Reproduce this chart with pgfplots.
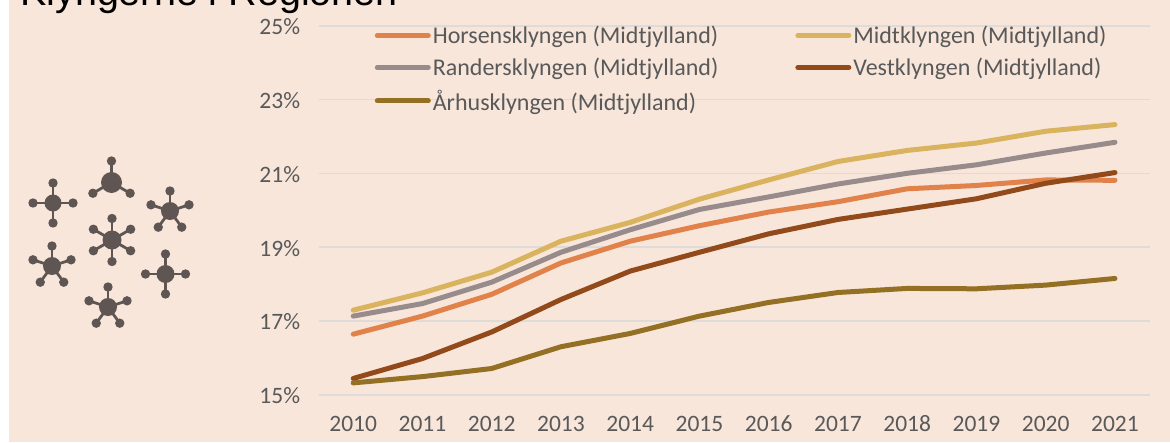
\documentclass[border=0pt]{standalone}
\usepackage{pgfplots}
\pgfplotsset{compat=1.18}
\usepackage{fontspec}
\setmainfont{Carlito}
\newfontfamily\titlefont{Liberation Sans}
\definecolor{bgc}{HTML}{F8E6DB}
\definecolor{gridc}{HTML}{DFDBD8}
\definecolor{txt}{HTML}{595959}
\definecolor{hors}{HTML}{E0824A}
\definecolor{midt}{HTML}{DAB35E}
\definecolor{rand}{HTML}{978C8B}
\definecolor{vest}{HTML}{934A1A}
\definecolor{aarh}{HTML}{937024}
\definecolor{icon}{HTML}{5F5654}
\pgfplotstableread{
year hors midt rand vest aarh
0 16.64 17.29 17.13 15.44 15.32
1 17.13 17.76 17.47 15.98 15.49
2 17.72 18.32 18.05 16.70 15.71
3 18.57 19.16 18.86 17.58 16.30
4 19.16 19.67 19.47 18.35 16.66
5 19.58 20.30 20.02 18.86 17.13
6 19.95 20.82 20.36 19.36 17.50
7 20.23 21.32 20.71 19.75 17.77
8 20.58 21.62 21.00 20.03 17.88
9 20.67 21.82 21.23 20.31 17.87
10 20.82 22.14 21.55 20.73 17.97
11 20.81 22.32 21.84 21.02 18.15
}\datatable
\newcommand{\mol}[5]{%
 \foreach \a in {#5}{%
  \draw[icon,line width=2.8pt] (#1,-#2) -- ++(\a:#3);
  \fill[icon] (#1,-#2) ++(\a:#3) circle (4.7pt);
 }
 \fill[icon] (#1,-#2) circle (#4);
}
\begin{document}
\begin{tikzpicture}[x=1pt,y=1pt]
\useasboundingbox (0,-442) rectangle (1170,0);
\begin{scope}
\clip (0,-442) rectangle (1170,0);
\fill[white] (0,-442) rectangle (1170,0);
\fill[bgc] (9,-442) rectangle (1170,0);
\node[anchor=base west,inner sep=0pt,font=\titlefont\fontsize{39.5}{40}\selectfont,text=black] at (20,-5) {Klyngerne i Regionen};
\mol{53}{203}{20}{8.5pt}{0,90,180,270}
\mol{111.5}{182.5}{21.5}{10.5pt}{90,210,330}
\mol{170}{211}{20}{9pt}{90,162,18,234,306}
\mol{112}{240}{21.5}{9.5pt}{90,150,30,210,330,270}
\mol{52}{266}{20}{9pt}{90,162,18,234,306}
\mol{165.5}{274}{20}{9pt}{0,90,180,270}
\mol{108}{307}{20}{9pt}{90,162,18,234,306}
\end{scope}
\begin{axis}[
 at={(318.6pt,-394.7pt)},anchor=south west,
 scale only axis,width=831pt,height=369pt,
 xmin=-0.5,xmax=11.5,ymin=15,ymax=25,
 axis line style={draw=none},
 major tick length=0pt,
 xtick={0,...,11},
 xticklabels={2010,2011,2012,2013,2014,2015,2016,2017,2018,2019,2020,2021},
 ytick={15,17,19,21,23,25},
 yticklabel={\pgfmathprintnumber{\tick}\%},
 /pgf/number format/assume math mode=true,
 ymajorgrids,
 grid style={gridc,line width=1.6pt},
 tick label style={font=\fontsize{23.5}{24}\selectfont,text=txt},
 xticklabel style={yshift=-17pt,text height=16pt,text depth=0pt},
 yticklabel style={xshift=-15pt,yshift=-1pt},
 clip=false,
 legend columns=2,
 legend cell align=left,
 legend style={draw=none,fill=none,at={(56pt,371pt)},anchor=north west,inner sep=0pt,
   font=\fontsize{24}{24}\selectfont,text=txt,
   /tikz/every even column/.append style={column sep=75pt},
   row sep=9pt},
 legend image code/.code={\draw[#1,line width=5pt,line cap=round] (0pt,0pt) -- (51pt,0pt);},
 every axis plot/.append style={line width=5pt,line cap=round,line join=round,no markers},
]
\addplot[hors] table[x=year,y=hors]{\datatable};
\addplot[midt] table[x=year,y=midt]{\datatable};
\addplot[rand] table[x=year,y=rand]{\datatable};
\addplot[vest] table[x=year,y=vest]{\datatable};
\addplot[aarh] table[x=year,y=aarh]{\datatable};
\legend{Horsensklyngen (Midtjylland),Midtklyngen (Midtjylland),Randersklyngen (Midtjylland),Vestklyngen (Midtjylland),Århusklyngen (Midtjylland)}
\end{axis}
\end{tikzpicture}
\end{document}
